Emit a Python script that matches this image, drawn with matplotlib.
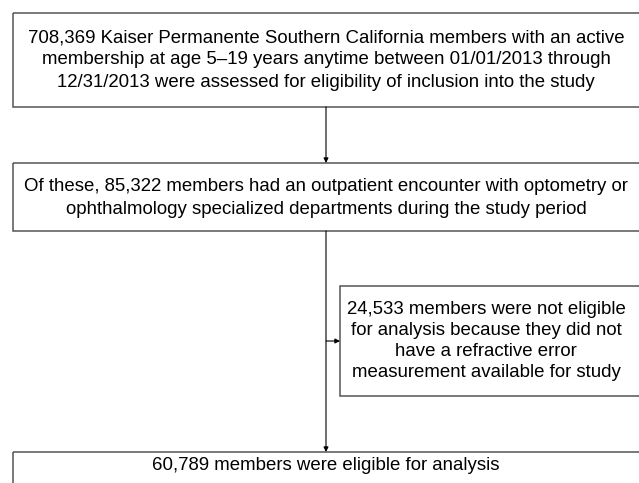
import matplotlib.pyplot as plt
from matplotlib.patches import Rectangle

plt.rcParams['font.family'] = ['Liberation Sans', 'DejaVu Sans']

# flowchart texts
box_texts = [
    "708,369 Kaiser Permanente Southern California members with an active\n"
    "membership at age 5\u201319 years anytime between 01/01/2013 through\n"
    "12/31/2013 were assessed for eligibility of inclusion into the study",
    "Of these, 85,322 members had an outpatient encounter with optometry or\n"
    "ophthalmology specialized departments during the study period",
    "60,789 members were eligible for analysis",
]
side_text = ("24,533 members were not eligible\n"
             "for analysis because they did not\n"
             "have a refractive error\n"
             "measurement available for study")

W, H = 639, 483
fig = plt.figure(figsize=(W / 100, H / 100), dpi=100)
ax = fig.add_axes([0, 0, 1, 1])
ax.set_xlim(0, W)
ax.set_ylim(H, 0)
ax.axis('off')

edge = '#555555'
fs = 13.4
ls = 1.4

# main boxes: (top, bottom), they run past the right edge of the picture
boxes = [(13, 107), (163, 231), (452, 500)]
for top, bot in boxes:
    ax.add_patch(Rectangle((12.7, top), 628, bot - top, fill=False,
                           edgecolor=edge, lw=1.1, clip_on=False))
ax.text(326, 60, box_texts[0], ha='center', va='center', fontsize=fs, linespacing=ls)
ax.text(326, 198, box_texts[1], ha='center', va='center', fontsize=fs, linespacing=ls)
ax.text(326, 466, box_texts[2], ha='center', va='center', fontsize=fs, linespacing=ls)

# side box
ax.add_patch(Rectangle((340, 286), 300, 110, fill=False, edgecolor=edge, lw=1.1, clip_on=False))
ax.text(486, 341, side_text, ha='center', va='center', fontsize=fs, linespacing=1.3)

arrow = dict(arrowstyle='-|>', color='black', lw=0.8, mutation_scale=7, shrinkA=0, shrinkB=0)
ax.annotate('', xy=(326, 163), xytext=(326, 107), arrowprops=arrow)
ax.annotate('', xy=(326, 452), xytext=(326, 231), arrowprops=arrow)
ax.annotate('', xy=(340, 341), xytext=(326, 341), arrowprops=arrow)

fig.savefig('out.png', dpi=100)
